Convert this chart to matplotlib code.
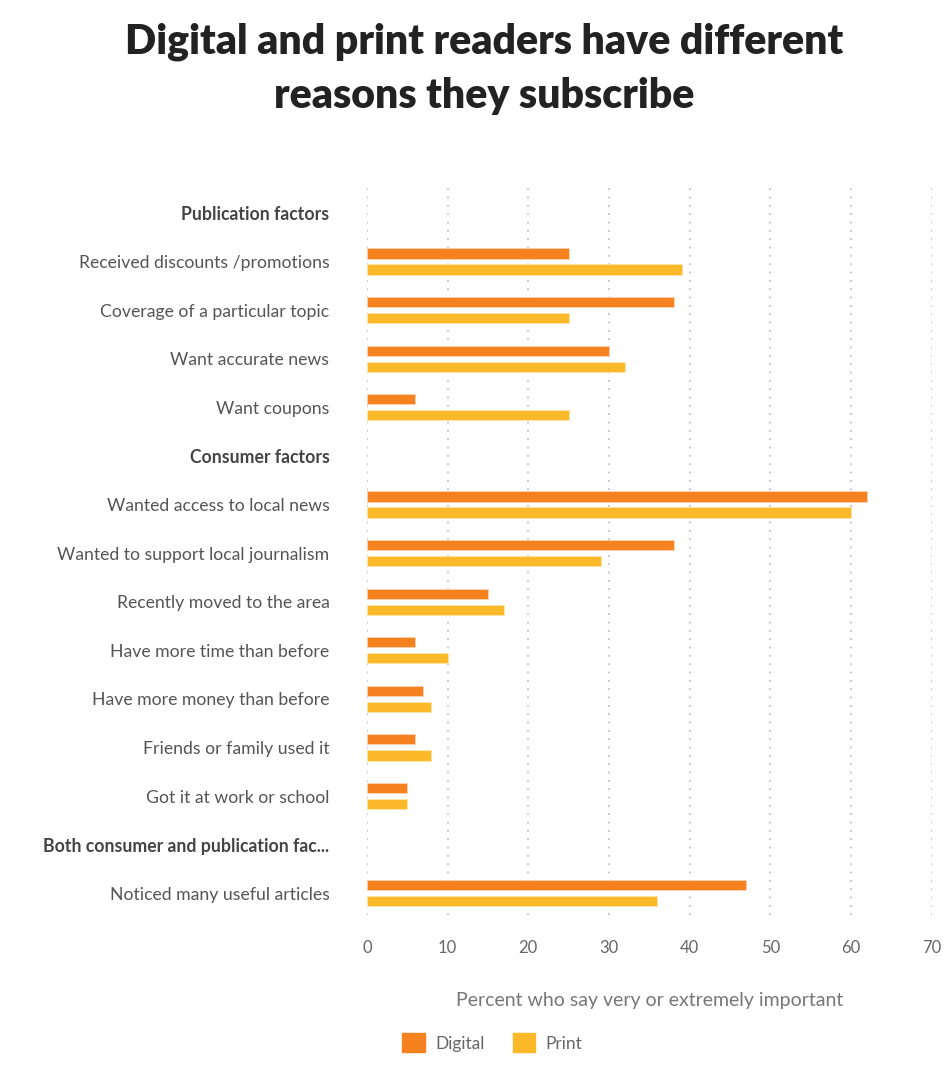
import numpy as np
import matplotlib.pyplot as plt
from matplotlib.patches import Patch

plt.rcParams['font.family'] = ['Lato', 'DejaVu Sans']

# rows from top to bottom, headers have no values
labels = ['Publication factors', 'Received discounts /promotions', 'Coverage of a particular topic',
          'Want accurate news', 'Want coupons', 'Consumer factors', 'Wanted access to local news',
          'Wanted to support local journalism', 'Recently moved to the area', 'Have more time than before',
          'Have more money than before', 'Friends or family used it', 'Got it at work or school',
          'Both consumer and publication fac...', 'Noticed many useful articles']
headers = [0, 5, 13]
digital = [None, 25, 38, 30, 6, None, 62, 38, 15, 6, 7, 6, 5, None, 47]
printed = [None, 39, 25, 32, 25, None, 60, 29, 17, 10, 8, 8, 5, None, 36]

c_dig = '#F5821F'
c_prt = '#FBB829'

fig = plt.figure(figsize=(9.48, 10.74), dpi=100)
ax = fig.add_axes([0.387, 0.148, 0.596, 0.68])

y = np.arange(len(labels))
for i in range(len(labels)):
    if digital[i] is None:
        continue
    ax.barh(y[i] - 0.165, digital[i], height=0.21, color=c_dig, edgecolor='#FDD3B0', linewidth=0.6)
    ax.barh(y[i] + 0.165, printed[i], height=0.21, color=c_prt, edgecolor='#FDE6A8', linewidth=0.6)

ax.set_xlim(0, 70)
ax.set_ylim(14.45, -0.58)
ax.set_xticks(range(0, 71, 10))
ax.set_yticks(y)
ax.set_yticklabels(labels)
for i, t in enumerate(ax.get_yticklabels()):
    if i in headers:
        t.set_fontweight('bold')
        t.set_color('#444444')
        t.set_fontsize(12.9)
    else:
        t.set_color('#555555')
ax.tick_params(axis='y', length=0, pad=27, labelsize=12.7)
ax.tick_params(axis='x', length=0, pad=18, labelsize=12, labelcolor='#666666')
for s in ax.spines.values():
    s.set_visible(False)
ax.grid(axis='x', linestyle=(0, (1, 4)), color='#bbbbbb', linewidth=1.2)
ax.set_axisbelow(True)
ax.set_xlabel('Percent who say very or extremely important', fontsize=14, color='#777777', labelpad=26)

fig.text(0.511, 0.979, 'Digital and print readers have different\nreasons they subscribe',
         ha='center', va='top', fontsize=29.5, fontweight='heavy', color='#222222', linespacing=1.5)

handles = [Patch(color=c_dig, label='Digital'), Patch(color=c_prt, label='Print')]
leg = fig.legend(handles=handles, loc='center left', bbox_to_anchor=(0.408, 0.029), ncol=2,
                 frameon=False, fontsize=12.5, handlelength=1.3, handleheight=1.3,
                 columnspacing=1.6, handletextpad=0.6)
for t in leg.get_texts():
    t.set_color('#666666')

fig.savefig('out.png', dpi=100, facecolor='white')
